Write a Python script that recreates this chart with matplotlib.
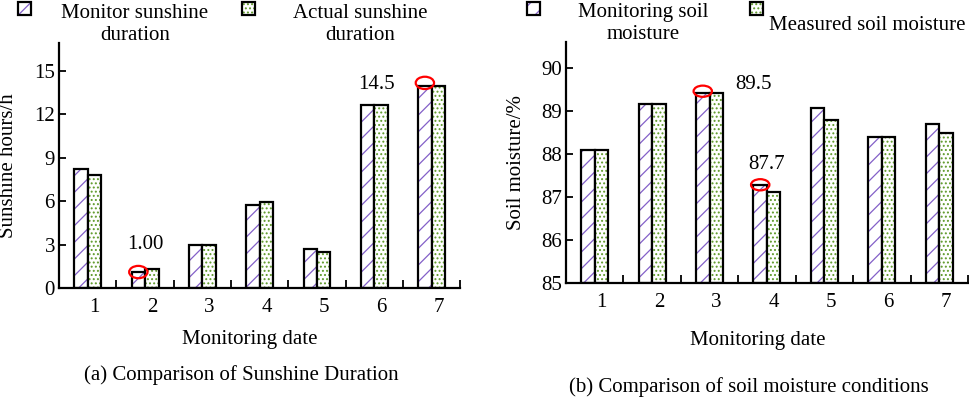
import numpy as np
import matplotlib
matplotlib.use('Agg')
import matplotlib.pyplot as plt
from matplotlib.patches import Ellipse, Rectangle

plt.rcParams['font.family'] = ['Liberation Serif', 'DejaVu Serif']
plt.rcParams['font.size'] = 15
plt.rcParams['hatch.linewidth'] = 0.9

# data
dates = [1, 2, 3, 4, 5, 6, 7]
sun_monitor = [8.2, 1.1, 3.0, 5.7, 2.7, 12.6, 13.95]
sun_actual = [7.8, 1.3, 3.0, 5.95, 2.5, 12.6, 13.95]
soil_monitor = [88.08, 89.15, 89.42, 87.28, 89.05, 88.38, 88.68]
soil_actual = [88.08, 89.15, 89.42, 87.11, 88.78, 88.38, 88.48]

sun_ticks = [0, 3, 6, 9, 12, 15]
soil_ticks = [85, 86, 87, 88, 89, 90]

PURPLE = '#8360c8'
GREEN = '#5f9a2a'
w = 0.235


def draw_pair(ax, x, mon, act, base):
    x = np.asarray(x, float)
    mon = np.asarray(mon) - base
    act = np.asarray(act) - base
    ax.bar(x - w / 2, mon, w, bottom=base, color='white', edgecolor=PURPLE,
           hatch='//', linewidth=0)
    ax.bar(x - w / 2, mon, w, bottom=base, fill=False, edgecolor='black', linewidth=1.6)
    ax.bar(x + w / 2, act, w, bottom=base, color='white', edgecolor=GREEN,
           hatch='....', linewidth=0)
    ax.bar(x + w / 2, act, w, bottom=base, fill=False, edgecolor='black', linewidth=1.6)


def style_axes(ax, yticks, ylim):
    ax.set_xlim(0.5, 7.5)
    ax.set_ylim(*ylim)
    ax.spines['top'].set_visible(False)
    ax.spines['right'].set_visible(False)
    ax.spines['left'].set_linewidth(1.6)
    ax.spines['bottom'].set_linewidth(1.6)
    ax.set_yticks(yticks)
    ax.tick_params(axis='y', direction='in', length=5, width=1.3, pad=3)
    ax.set_xticks(np.arange(1.5, 8, 1.0), [''] * 7)
    ax.tick_params(axis='x', which='major', direction='in', length=6, width=1.3)
    ax.set_xticks(np.array(dates) + 0.12, [str(d) for d in dates], minor=True)
    ax.tick_params(axis='x', which='minor', length=0, pad=7)


fig = plt.figure(figsize=(9.69, 3.97), dpi=100)
ax1 = fig.add_axes([0.061, 0.2746, 0.414, 0.617])
ax2 = fig.add_axes([0.584, 0.287, 0.415, 0.607])

draw_pair(ax1, dates, sun_monitor, sun_actual, 0)
style_axes(ax1, sun_ticks, (0, 16.9))
draw_pair(ax2, dates, soil_monitor, soil_actual, 85)
style_axes(ax2, soil_ticks, (85, 90.59))

# highlighted points
for i, dy in [(1, 0.0), (6, 0.2)]:
    ax1.add_patch(Ellipse((dates[i] - w / 2, sun_monitor[i] + dy), 0.32, 0.85,
                          fill=False, edgecolor='red', lw=1.6, clip_on=False, zorder=5))
for i, dy in [(2, 0.03), (3, 0.0)]:
    ax2.add_patch(Ellipse((dates[i] - w / 2, soil_monitor[i] + dy), 0.32, 0.26,
                          fill=False, edgecolor='red', lw=1.6, clip_on=False, zorder=5))

ax1.text(2.0, 2.97, '1.00', ha='center', va='center')
ax1.text(6.03, 14.07, '14.5', ha='center', va='center')
ax2.text(3.77, 89.6, '89.5', ha='center', va='center')
ax2.text(4.0, 87.76, '87.7', ha='center', va='center')

ax1.set_ylabel('Sunshine hours/h')
ax1.yaxis.set_label_coords(-0.127, 0.5)
ax2.set_ylabel('Soil moisture/%')
ax2.yaxis.set_label_coords(-0.122, 0.5)
for ax in (ax1, ax2):
    ax.yaxis.label.set_va('center')
for ax, xc, yc in [(ax1, 0.476, -0.212), (ax2, 0.478, -0.237)]:
    ax.set_xlabel('Monitoring date')
    ax.xaxis.set_label_coords(xc, yc)
    ax.xaxis.label.set_va('center')

fig.text(241 / 969, 1 - 375 / 397, '(a) Comparison of Sunshine Duration', ha='center', va='center')
fig.text(749 / 969, 1 - 387 / 397, '(b) Comparison of soil moisture conditions', ha='center', va='center')

# legends
W, H = 969, 397


def legend_box(px, py, color, hatch):
    r = Rectangle((px / W, 1 - (py + 13) / H), 13 / W, 13 / H, transform=fig.transFigure,
                  facecolor='white', edgecolor=color, hatch=hatch, linewidth=0)
    fig.add_artist(r)
    fig.add_artist(Rectangle((px / W, 1 - (py + 13) / H), 13 / W, 13 / H,
                             transform=fig.transFigure, fill=False, edgecolor='black',
                             linewidth=1.6))


legend_box(18, 2, PURPLE, '//')
legend_box(242, 2, GREEN, '....')
legend_box(527, 2, PURPLE, '//')
legend_box(750, 2, GREEN, '....')
fig.text(135 / W, 1 - 24.5 / H, 'Monitor sunshine\nduration', ha='center', va='center',
         multialignment='center')
fig.text(360 / W, 1 - 24.5 / H, 'Actual sunshine\nduration', ha='center', va='center',
         multialignment='center')
fig.text(643 / W, 1 - 23.5 / H, 'Monitoring soil\nmoisture', ha='center', va='center',
         multialignment='center')
fig.text(867 / W, 1 - 25 / H, 'Measured soil moisture', ha='center', va='center')

fig.savefig('out.png', dpi=100)
